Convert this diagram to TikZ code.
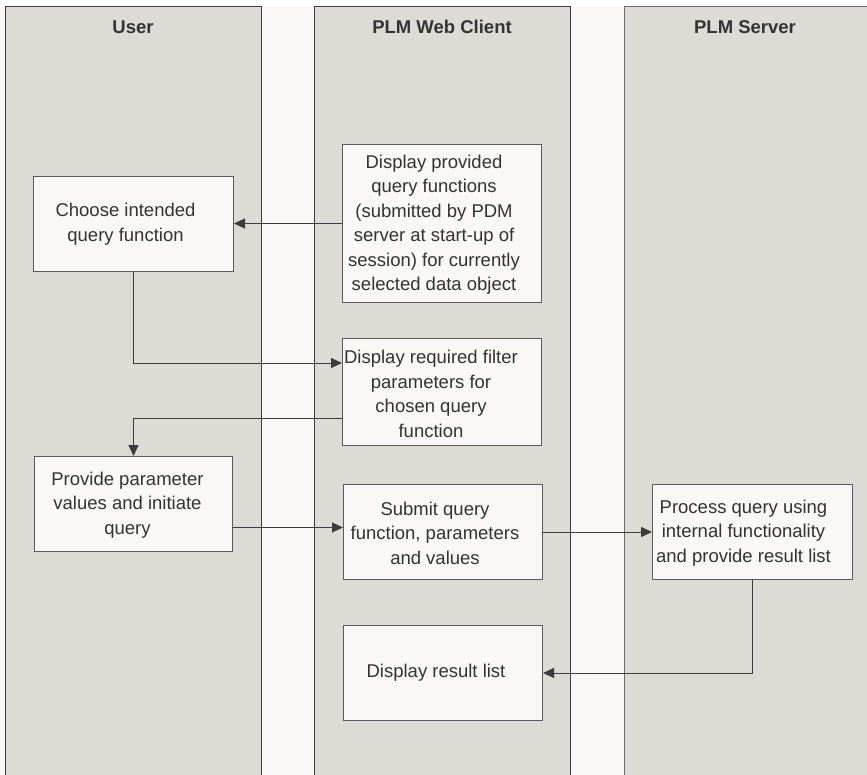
\documentclass[tikz,border=0pt]{standalone}
\usepackage{fontspec}
\setmainfont{Liberation Sans}
\usetikzlibrary{arrows.meta}
\definecolor{lanefill}{HTML}{DCDBD6}
\definecolor{gapfill}{HTML}{F9F8F6}
\definecolor{boxfill}{HTML}{F9F8F6}
\definecolor{linec}{HTML}{3C3C3C}
\definecolor{boxline}{HTML}{5A5A5A}
\definecolor{txtc}{HTML}{333333}
\tikzset{
  lane/.style={fill=lanefill, draw=linec, line width=1pt},
  lanehead/.style={font=\bfseries\fontsize{18.5}{22}\selectfont, text=txtc, anchor=center},
  stepbox/.style={draw=boxline, fill=boxfill, line width=1pt, inner sep=0pt, anchor=north west},
  steptext/.style={font=\fontsize{18.5}{24.5}\selectfont, text=txtc, align=center, inner sep=0pt},
  flow/.style={draw=linec, line width=1pt, -{Triangle[length=11pt,width=10pt]}}
}
\begin{document}
\begin{tikzpicture}[x=1pt,y=-1pt]
\useasboundingbox (0,0) rectangle (867,775);
\fill[white] (0,0) rectangle (867,7);
\fill[gapfill] (0,7) rectangle (867,775);
% lanes
\path[lane] (5,7) rectangle (261,790);
\path[lane] (314,7) rectangle (570,790);
\path[lane, draw=gray!85!black] (624,7) rectangle (880,790);
\node[lanehead] (huser) at (133,27) {User};
\node[lanehead] (hweb) at (442,27) {PLM Web Client};
\node[lanehead] (hsrv) at (745,27) {PLM Server};
% boxes
\node[stepbox, minimum width=200pt, minimum height=95pt] (choose) at (33,176) {};
\node[steptext] at ([xshift=-8pt]choose.center) {Choose intended\\query function};
\node[stepbox, minimum width=199pt, minimum height=158pt] (prov) at (342,144) {};
\node[steptext] at ([xshift=-8pt,yshift=-1pt]prov.center) {Display provided\\query functions\\(submitted by PDM\\server at start-up of\\session) for currently\\selected data object};
\node[stepbox, minimum width=199pt, minimum height=107pt] (req) at (342,338) {};
\node[steptext] at ([xshift=-11pt,yshift=-2pt]req.center) {Display required filter\\parameters for\\chosen query\\function};
\node[stepbox, minimum width=198pt, minimum height=95pt] (provide) at (34,456) {};
\node[steptext] at ([xshift=-6pt,yshift=-1pt]provide.center) {Provide parameter\\values and initiate\\query};
\node[stepbox, minimum width=199pt, minimum height=95pt] (submit) at (343,484) {};
\node[steptext] at ([xshift=-8pt,yshift=-1pt]submit.center) {Submit query\\function, parameters\\and values};
\node[stepbox, minimum width=200pt, minimum height=95pt] (proc) at (652,484) {};
\node[steptext] at ([xshift=-9pt,yshift=-1pt]proc.center) {Process query using\\internal functionality\\and provide result list};
\node[stepbox, minimum width=199pt, minimum height=95pt] (result) at (343,625) {};
\node[steptext] at ([xshift=-7pt]result.center) {Display result list};
% connectors
\draw[flow] (prov.west) -- (prov.west -| choose.east);
\coordinate (reqin) at ([yshift=-25pt]req.north west);
\draw[flow] (choose.south) |- (reqin);
\coordinate (reqout) at ([yshift=28pt]req.south west);
\draw[flow] (reqout) -| (provide.north);
\coordinate (subin) at ([yshift=4.5pt]submit.west);
\draw[flow] (subin -| provide.east) -- (subin);
\draw[flow] (submit.east) -- (proc.west);
\draw[flow] (proc.south) |- (result.east);
\end{tikzpicture}
\end{document}
